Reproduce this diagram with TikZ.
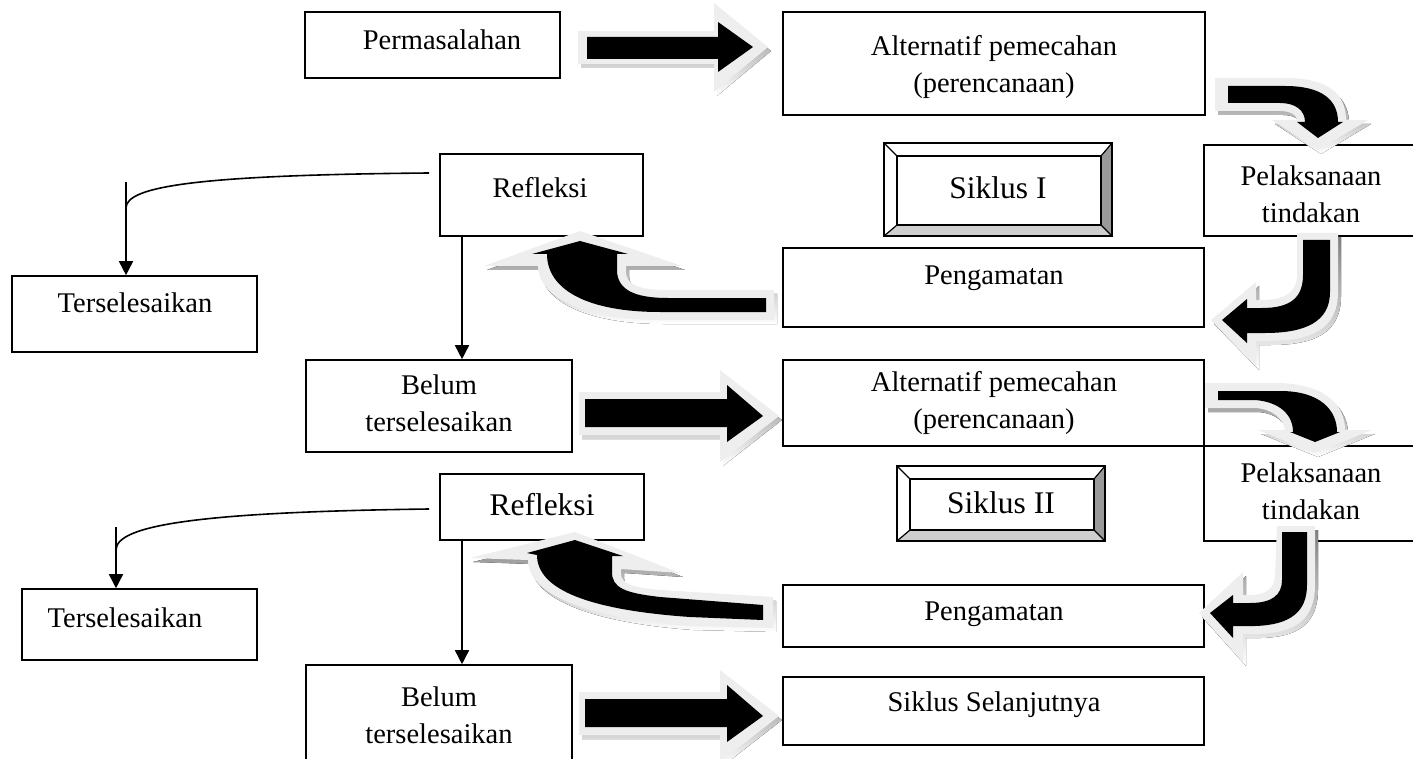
\documentclass[tikz,border=0pt]{standalone}
\usepackage{fontspec}
\setmainfont{Liberation Serif}
\usetikzlibrary{fit,arrows.meta}
\definecolor{lightout}{HTML}{EEEEEE}
\definecolor{shade}{HTML}{B8B8B8}
\definecolor{bevdark}{HTML}{999999}
\definecolor{bevlight}{HTML}{CFCFCF}
\tikzset{
 box/.style={draw=black, line width=1.6pt, inner sep=0pt},
 txt/.style={font=\fontsize{28.5}{37}\selectfont, inner sep=0pt, align=center},
 bigtxt/.style={font=\fontsize{31.5}{37}\selectfont, inner sep=0pt, align=center},
 conn/.style={line width=1.6pt, -{Triangle[length=14pt,width=14pt]}},
 thinline/.style={line width=1.6pt},
}
\newcommand\blockarrow[2]{%
  \fill[shade, shift={(3,4)}] #1;
  \fill[lightout] #1;
  \fill[black] #2;}
\newcommand\bevelbox[5]{%
  \node[fit={(#2,#3) (#4,#5)}, inner sep=0pt] (#1) {};
  \fill[white] (#2,#3) -- (#4,#3) -- ({#4-11},{#3+13}) -- ({#2+13},{#3+13}) -- cycle;
  \fill[white] (#2,#3) -- ({#2+13},{#3+13}) -- ({#2+13},{#5-11}) -- (#2,#5) -- cycle;
  \fill[bevdark] (#4,#3) -- (#4,#5) -- ({#4-11},{#5-11}) -- ({#4-11},{#3+13}) -- cycle;
  \fill[bevlight] (#2,#5) -- (#4,#5) -- ({#4-11},{#5-11}) -- ({#2+13},{#5-11}) -- cycle;
  \draw[line width=1.2pt] (#2,#3) -- ({#2+13},{#3+13}) (#4,#3) -- ({#4-11},{#3+13})
     (#2,#5) -- ({#2+13},{#5-11}) (#4,#5) -- ({#4-11},{#5-11});
  \draw[line width=1.6pt] ({#2+13},{#3+13}) rectangle ({#4-11},{#5-11});
  \draw[line width=1.6pt] (#2,#3) rectangle (#4,#5);}
\begin{document}
\begin{tikzpicture}[x=1pt,y=-1pt]
\useasboundingbox (0,0) rectangle (1413,759);
% ---------- boxes ----------
\node[box, fit={(305,12) (560,78)}] (perm) {};
\node[box, fit={(783,12) (1205,115)}] (alt1) {};
\node[box, fit={(1204,145) (1420,236)}] (pel1) {};
\node[box, fit={(440,154) (643,236)}] (ref1) {};
\node[box, fit={(783,248) (1204,327)}] (pen1) {};
\node[box, fit={(12,276) (257,352)}] (ter1) {};
\node[box, fit={(306,360) (572,452)}] (bel1) {};
\node[box, fit={(783,360) (1204,446)}] (alt2) {};
\node[box, fit={(1204,446) (1420,541)}] (pel2) {};
\node[box, fit={(440,474) (644,540)}] (ref2) {};
\node[box, fit={(783,585) (1204,647)}] (pen2) {};
\node[box, fit={(22,589) (257,660)}] (ter2) {};
\node[box, fit={(306,665) (572,770)}] (bel2) {};
\node[box, fit={(783,677) (1204,745)}] (sel) {};
\bevelbox{sik1}{884}{143}{1112}{236}
\bevelbox{sik2}{897}{466}{1105}{541}
% ---------- connectors ----------
\coordinate (j1) at (126,182);
\coordinate (j2) at (116,527);
\coordinate (v1) at (462,0);
\draw[thinline] ([xshift=-10pt,yshift=22pt]ref1.west) .. controls (200,175) and (126,186) .. (126,208);
\draw[conn] (j1) -- (j1 |- ter1.north);
\draw[thinline] ([xshift=-10pt,yshift=-2pt]ref2.west) .. controls (200,512) and (116,525) .. (116,550);
\draw[conn] (j2) -- (j2 |- ter2.north);
\draw[conn] (v1 |- ref1.south) -- (v1 |- bel1.north);
\draw[conn] (v1 |- ref2.south) -- (v1 |- bel2.north);
% ---------- block arrows ----------
% straight 1
\blockarrow{(578,31) -- (714,31) -- (714,3) -- (768,47) -- (714,92) -- (714,64) -- (578,64) -- cycle}
  {(587,37) -- (718,37) -- (718,22) -- (753,47) -- (718,72) -- (718,59) -- (587,59) -- cycle}
% straight 2
\blockarrow{(579,392) -- (720,392) -- (720,370) -- (779,416) -- (720,462) -- (720,435) -- (579,435) -- cycle}
  {(585,399) -- (727,399) -- (727,385) -- (763,416) -- (727,442) -- (727,427) -- (585,427) -- cycle}
% straight 3
\blockarrow{(579,692) -- (720,692) -- (720,670) -- (779,716) -- (720,762) -- (720,735) -- (579,735) -- cycle}
  {(585,699) -- (727,699) -- (727,685) -- (763,716) -- (727,742) -- (727,727) -- (585,727) -- cycle}
% top right 1 (alt1 -> pel1)
\blockarrow{(1215,78) -- (1285,78) .. controls (1330,78) and (1346,95) .. (1346,120) -- (1368,120) -- (1318,150) -- (1272,120) -- (1297,120) .. controls (1297,115) and (1290,111) .. (1280,111) -- (1215,111) -- cycle}
  {(1228,86) -- (1285,86) .. controls (1322,86) and (1338,100) .. (1338,122) -- (1343,122) -- (1318,138) -- (1297,122) -- (1305,122) .. controls (1305,110) and (1295,103) .. (1280,103) -- (1228,103) -- cycle}
% right 1 (pel1 -> pen1)
\blockarrow{(1297,233) -- (1338,233) -- (1338,292) .. controls (1338,330) and (1310,341) .. (1268,341) -- (1256,341) -- (1256,366) -- (1211,320) -- (1256,282) -- (1256,300) -- (1262,300) .. controls (1285,300) and (1297,292) .. (1297,275) -- cycle}
  {(1303,240) -- (1330,240) -- (1330,292) .. controls (1330,322) and (1305,333) .. (1265,333) -- (1247,333) -- (1247,343) -- (1222,320) -- (1247,299) -- (1247,308) -- (1262,308) .. controls (1290,308) and (1303,298) .. (1303,275) -- cycle}
% left 1 (pen1 -> ref1)
\blockarrow{(580,231) -- (682,266) -- (626,266) -- (626,272) .. controls (626,285) and (640,290) .. (668,290) -- (774,290) -- (774,320) -- (660,320) .. controls (580,320) and (538,295) .. (538,266) -- (484,266) -- cycle}
  {(580,241) -- (628,254) -- (617,254) -- (617,270) .. controls (617,290) and (635,298) .. (668,298) -- (766,298) -- (766,312) -- (660,312) .. controls (588,312) and (547,290) .. (547,254) -- (532,254) -- cycle}
% top right 2 (alt2 -> pel2)
\blockarrow{(1205,383) -- (1275,383) .. controls (1325,383) and (1345,405) .. (1345,430) -- (1372,430) -- (1315,453) -- (1258,430) -- (1285,430) .. controls (1283,418) and (1272,409) .. (1255,408) -- (1205,408) -- cycle}
  {(1218,391) -- (1280,391) .. controls (1320,391) and (1337,410) .. (1337,432) -- (1340,432) -- (1315,442) -- (1290,432) -- (1293,432) .. controls (1293,415) and (1280,402) .. (1255,400) -- (1218,400) -- cycle}
% right 2 (pel2 -> pen2)
\blockarrow{(1277,526) -- (1315,526) -- (1315,585) .. controls (1315,620) and (1295,633) .. (1258,634) -- (1243,634) -- (1243,662) -- (1199,613) -- (1243,572) -- (1243,595) -- (1250,595) .. controls (1266,595) and (1275,588) .. (1275,575) -- cycle}
  {(1282,532) -- (1307,532) -- (1307,585) .. controls (1307,612) and (1290,625) .. (1255,626) -- (1233,626) -- (1233,638) -- (1210,613) -- (1233,595) -- (1233,603) -- (1250,603) .. controls (1272,603) and (1282,595) .. (1282,580) -- cycle}
% left 2 (pen2 -> ref2)
\blockarrow{(575,532) -- (680,573) -- (621,569) -- (621,574) .. controls (621,583) and (632,588) .. (662,590) -- (773,597) -- (773,628) -- (690,626) .. controls (580,618) and (528,592) .. (528,560) -- (470,558) -- cycle}
  {(575,540) -- (623,556) -- (612,556) -- (612,572) .. controls (612,588) and (625,593) .. (660,597) -- (763,605) -- (763,620) -- (690,617) .. controls (590,610) and (537,590) .. (537,555) -- (527,553) -- cycle}
% ---------- texts ----------
\node[txt] (tperm) at (442,40) {Permasalahan};
\node[txt] (talt1) at (994,67) {Alternatif pemecahan\\(perencanaan)};
\node[txt] (tpel1) at (1311,194) {Pelaksanaan\\tindakan};
\node[txt] (tref1) at (540,188) {Refleksi};
\node[bigtxt] (tsik1) at (998,188) {Siklus I};
\node[txt] (tpen1) at (994,278) {Pengamatan};
\node[txt] (tter1) at (135,303) {Terselesaikan};
\node[txt] (tbel1) at (439,403) {Belum\\terselesaikan};
\node[txt] (talt2) at (994,403) {Alternatif pemecahan\\(perencanaan)};
\node[txt] (tpel2) at (1311,491) {Pelaksanaan\\tindakan};
\node[bigtxt] (tref2) at (542,505) {Refleksi};
\node[bigtxt] (tsik2) at (1001,503) {Siklus II};
\node[txt] (tpen2) at (994,614) {Pengamatan};
\node[txt] (tter2) at (125,618) {Terselesaikan};
\node[txt] (tbel2) at (439,715) {Belum\\terselesaikan};
\node[txt] (tsel) at (994,705) {Siklus Selanjutnya};
\end{tikzpicture}
\end{document}
